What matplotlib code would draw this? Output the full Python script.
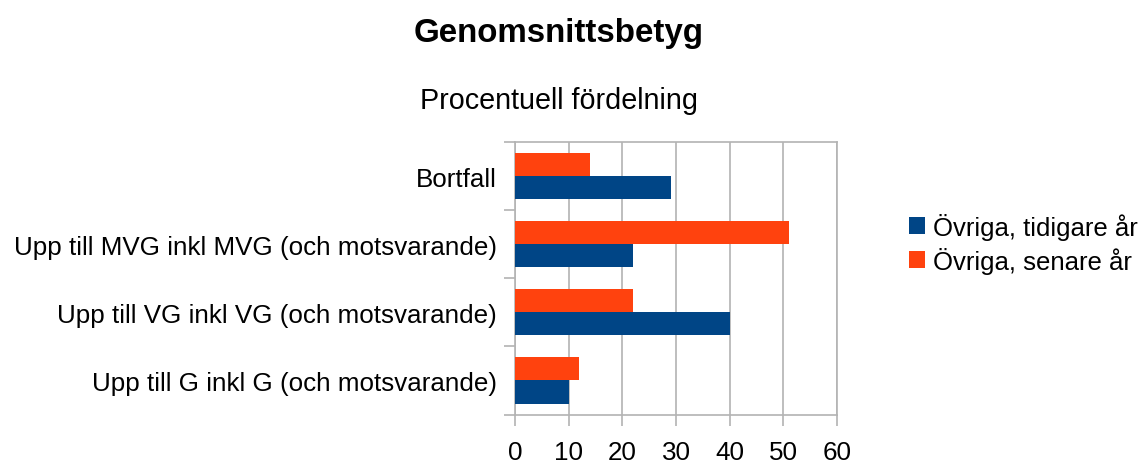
import matplotlib.pyplot as plt
import numpy as np

kategorier = ['Upp till G inkl G (och motsvarande)',
              'Upp till VG inkl VG (och motsvarande)',
              'Upp till MVG inkl MVG (och motsvarande)',
              'Bortfall']
tidigare = [10, 40, 22, 29]
senare = [12, 22, 51, 14]
serier = ['Övriga, tidigare år', 'Övriga, senare år']
xticks = [0, 10, 20, 30, 40, 50, 60]

plt.rcParams['font.family'] = ['Liberation Sans', 'DejaVu Sans']

fig = plt.figure(figsize=(11.41, 4.64), dpi=100)
ax = fig.add_axes([0.4514, 0.1045, 0.2822, 0.5873])

y = np.arange(len(kategorier))
h = 0.34
ax.barh(y - h / 2, tidigare, height=h, color='#004586', label=serier[0], zorder=3)
ax.barh(y + h / 2, senare, height=h, color='#ff420e', label=serier[1], zorder=3)

ax.set_xlim(0, 60)
ax.set_ylim(-0.5, len(kategorier) - 0.5)
ax.set_xticks(xticks)
ax.set_xticklabels([str(v) for v in xticks], fontsize=18.7)
ax.set_yticks(y)
ax.set_yticklabels(kategorier, fontsize=18.7)
ax.tick_params(axis='y', length=0, pad=13)
ax.set_yticks(np.arange(-0.5, len(kategorier)), minor=True)
ax.tick_params(axis='y', which='minor', length=8, color='#b3b3b3', width=1.2)
ax.tick_params(axis='x', length=8, color='#b3b3b3', width=1.2, pad=10)
ax.grid(axis='x', color='#b3b3b3', linewidth=1.2, zorder=0)
for s in ax.spines.values():
    s.set_color('#b3b3b3')
    s.set_linewidth(1.2)

fig.text(0.49, 0.928, 'Genomsnittsbetyg', ha='center', va='center',
         fontsize=23.9, fontweight='bold')
fig.text(0.49, 0.782, 'Procentuell fördelning', ha='center', va='center',
         fontsize=20.7)

fig.legend(loc='center left', bbox_to_anchor=(0.797, 0.474), frameon=False,
           fontsize=18.5, handlelength=0.6, handleheight=0.6, handletextpad=0.3,
           labelspacing=0.27, borderaxespad=0, borderpad=0)

fig.savefig('out.png', dpi=100)
